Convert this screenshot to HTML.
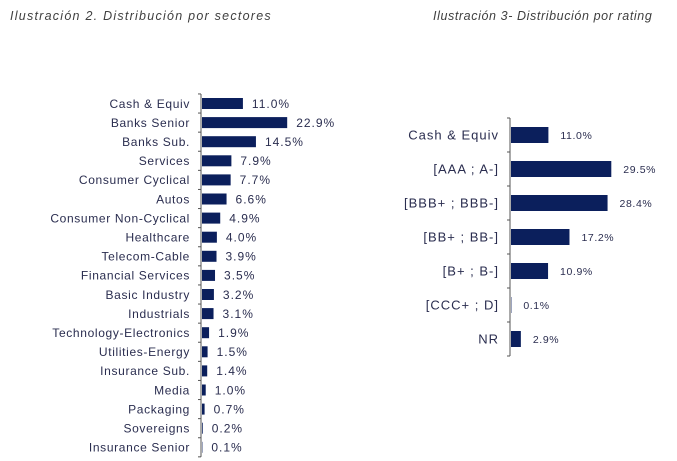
<!DOCTYPE html>
<html><head><meta charset="utf-8"><style>
body{margin:0;background:#fff;width:677px;height:461px;overflow:hidden;font-family:"Liberation Sans",sans-serif}
.t{position:absolute;top:9px;font-style:italic;font-size:12.5px;color:#404040;white-space:nowrap}
</style></head><body>
<div class="t" style="left:10px;letter-spacing:1.25px">Ilustración 2. Distribución por sectores</div>
<div class="t" style="left:433px;letter-spacing:0.6px">Ilustración 3- Distribución por rating</div>
<svg width="677" height="461" style="position:absolute;left:0;top:0" id="svg"></svg>
<script>
const sectorCats=["Cash & Equiv","Banks Senior","Banks Sub.","Services","Consumer Cyclical","Autos","Consumer Non-Cyclical","Healthcare","Telecom-Cable","Financial Services","Basic Industry","Industrials","Technology-Electronics","Utilities-Energy","Insurance Sub.","Media","Packaging","Sovereigns","Insurance Senior"];
const sectorVals=[11.0,22.9,14.5,7.9,7.7,6.6,4.9,4.0,3.9,3.5,3.2,3.1,1.9,1.5,1.4,1.0,0.7,0.2,0.1];
const ratingCats=["Cash & Equiv","[AAA ; A-]","[BBB+ ; BBB-]","[BB+ ; BB-]","[B+ ; B-]","[CCC+ ; D]","NR"];
const ratingVals=[11.0,29.5,28.4,17.2,10.9,0.1,2.9];
const svg=document.getElementById('svg');const NS="http://www.w3.org/2000/svg";
function mk(t,a,p){const e=document.createElementNS(NS,t);for(const k in a)e.setAttribute(k,a[k]);(p||svg).appendChild(e);return e;}
function chart(cats,vals,o,prefix){
  const g=mk('g',{});
  
  
  const x=v=>o.x0+v*o.k, y=i=>o.y0+i*o.step;
  const top=y(0)-o.step/2, bot=y(cats.length-1)+o.step/2;
  const ax=mk('line',{x1:o.x0,x2:o.x0,y1:top,y2:bot,stroke:'#555','stroke-width':1},g);
  
  
  for(let i=0;i<=cats.length;i++){mk('line',{x1:o.x0-3,x2:o.x0,y1:top+i*o.step,y2:top+i*o.step,stroke:'#555'},g);}
  cats.forEach((c,i)=>{
    const l=mk('text',{x:o.x0-11,y:y(i)+o.fs*0.36,'text-anchor':'end','font-size':o.fs,'letter-spacing':o.ls,fill:'#2a2d4f'},g);l.textContent=c;
    
    
    const b=mk('rect',{x:o.x0+1,y:y(i)-o.bh/2,width:Math.max(vals[i]*o.k,0.4),height:o.bh,fill:'#0b1f5c'},g);
    
    
    const v=mk('text',{x:x(vals[i])+o.gap,y:y(i)+o.vfs*0.36,'font-size':o.vfs,'letter-spacing':o.vls,fill:'#2a2d4f'},g);v.textContent=vals[i].toFixed(1)+'%';
    
    
  });
}
chart(sectorCats,sectorVals,{x0:201,k:3.72,y0:103.5,step:19.1,bh:11,fs:12,ls:0.65,vfs:12,vls:1,gap:10},'sector');
chart(ratingCats,ratingVals,{x0:510,k:3.4,y0:135,step:34,bh:16,fs:13,ls:1,vfs:10.5,vls:0.6,gap:13},'rating');
</script>
</body></html>
